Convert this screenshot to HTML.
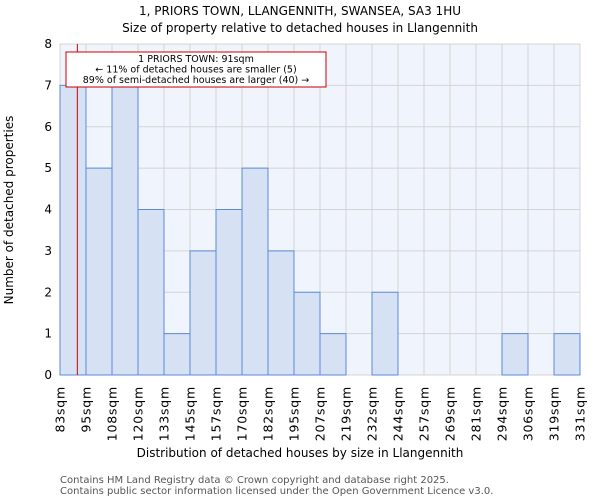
<!DOCTYPE html>
<html><head><meta charset="utf-8"><style>
body{margin:0;background:#fff;font-family:"DejaVu Sans","Liberation Sans",sans-serif}
svg text{font-family:"DejaVu Sans","Liberation Sans",sans-serif}
</style></head><body>
<svg id="c" width="600" height="500" xmlns="http://www.w3.org/2000/svg">
<text x="300" y="15" text-anchor="middle" font-size="12">1, PRIORS TOWN, LLANGENNITH, SWANSEA, SA3 1HU</text>
<text x="300" y="32" text-anchor="middle" font-size="12">Size of property relative to detached houses in Llangennith</text>
<rect x="60" y="44" width="520" height="331" fill="#f0f4fd"/>
<g id="grid"></g><g id="bars"></g><g id="axes"></g>
<text x="300" y="457" text-anchor="middle" font-size="12">Distribution of detached houses by size in Llangennith</text>
<text transform="translate(13,210) rotate(-90)" text-anchor="middle" font-size="12">Number of detached properties</text>
<text x="60" y="483" font-size="10" fill="#555">Contains HM Land Registry data © Crown copyright and database right 2025.</text>
<text x="60" y="494" font-size="10" fill="#555">Contains public sector information licensed under the Open Government Licence v3.0.</text>
</svg>
<script>
const edges=["83sqm","95sqm","108sqm","120sqm","133sqm","145sqm","157sqm","170sqm","182sqm","195sqm","207sqm","219sqm","232sqm","244sqm","257sqm","269sqm","281sqm","294sqm","306sqm","319sqm","331sqm"];
const counts=[7,5,7,4,1,3,4,5,3,2,1,0,2,0,0,0,0,1,0,1];
const yTicks=[0,1,2,3,4,5,6,7,8];
const markerBin=0.667;
const NS="http://www.w3.org/2000/svg";
const x0=60,x1=580,y0=375,y1=44,ymax=8;
const bw=(x1-x0)/counts.length;
const X=i=>x0+i*bw, Y=v=>y0-(y0-y1)*v/ymax;
function mk(t,a,p){const e=document.createElementNS(NS,t);for(const k in a)e.setAttribute(k,a[k]);p.appendChild(e);return e;}
const g=document.getElementById('grid'),b=document.getElementById('bars'),ax=document.getElementById('axes');
yTicks.forEach(v=>{const l=mk('line',{x1:x0,x2:x1,y1:Y(v),y2:Y(v),stroke:'#d4d4d4'},g);


const t=mk('text',{x:x0-8,y:Y(v)+4,'text-anchor':'end','font-size':12},ax);t.textContent=v;

});
edges.forEach((s,i)=>{const l=mk('line',{x1:X(i),x2:X(i),y1:y0,y2:y1,stroke:'#d4d4d4'},g);


const t=mk('text',{transform:`translate(${X(i)+4.5},386) rotate(-90)`,'text-anchor':'end','font-size':12.5,'letter-spacing':0.8},ax);t.textContent=s;

});
counts.forEach((c,i)=>{if(!c)return;const r=mk('rect',{x:X(i),y:Y(c),width:bw,height:y0-Y(c),fill:'#d6e1f4',stroke:'#5b8bd6','stroke-width':1},b);

});
const ml=mk('line',{x1:X(markerBin),x2:X(markerBin),y1:y0,y2:y1,stroke:'#c00','stroke-width':1},ax);


const bx=mk('rect',{x:66,y:52,width:260,height:35,fill:'#fff',stroke:'#c00'},ax);


["1 PRIORS TOWN: 91sqm","← 11% of detached houses are smaller (5)","89% of semi-detached houses are larger (40) →"].forEach((s,i)=>{const t=mk('text',{x:196,y:62+i*10.5,'text-anchor':'middle','font-size':9.5},ax);t.textContent=s;

});
</script>
</body></html>
